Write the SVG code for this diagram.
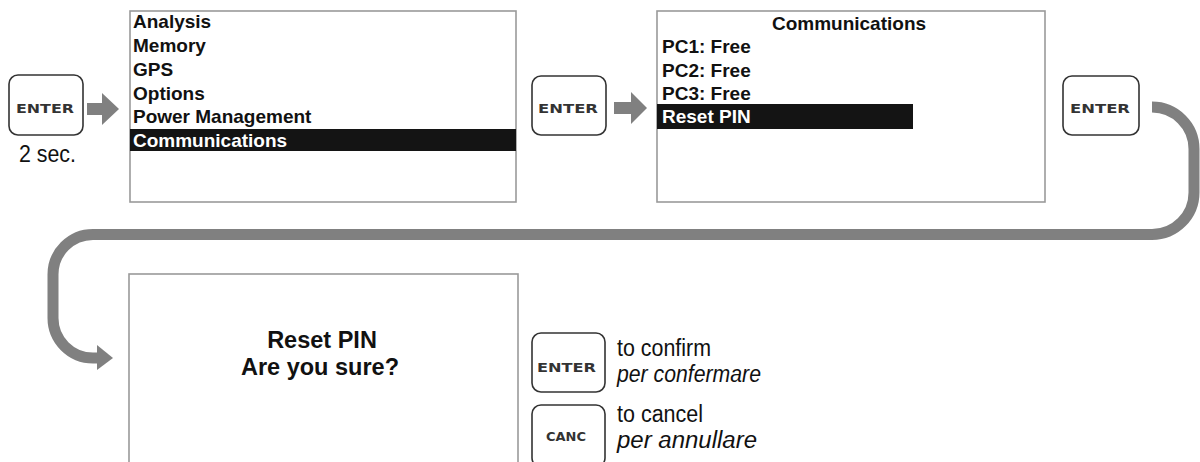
<svg xmlns="http://www.w3.org/2000/svg" width="1200" height="462" viewBox="0 0 1200 462">
<style>
.scr{fill:#fff;stroke:#9a9a9a;stroke-width:1.6}
.bar{fill:#141414}
.mi{font-family:"Liberation Sans",Arial,sans-serif;font-weight:bold;font-size:19px;fill:#111}
.mw{font-family:"Liberation Sans",Arial,sans-serif;font-weight:bold;font-size:19px;fill:#fff}
.big{font-family:"Liberation Sans",Arial,sans-serif;font-weight:bold;font-size:23.5px;fill:#111}
.btn{fill:#fff;stroke:#333;stroke-width:1.6}
.bt{font-family:"DejaVu Sans",Verdana,sans-serif;font-weight:bold;font-size:12px;fill:#333}
.lbl{font-family:"Liberation Sans",Arial,sans-serif;font-size:23px;fill:#111}
.it{font-style:italic}
.arr{fill:#808080}
.conn{fill:none;stroke:#808080;stroke-width:11}
</style>

<g id="btn-enter-1">
<rect class="btn" x="9" y="75" width="74" height="60" rx="9"/>
<text class="bt" x="16" y="113" textLength="58" lengthAdjust="spacingAndGlyphs">ENTER</text>
<text class="lbl" x="19" y="162" textLength="57" lengthAdjust="spacingAndGlyphs">2 sec.</text>
</g>

<g id="screen-menu">
<rect class="scr" x="130" y="11" width="386" height="191"/>
<rect class="bar" x="130" y="129" width="386" height="22"/>
<text class="mi" x="133" y="28">Analysis</text>
<text class="mi" x="133" y="52">Memory</text>
<text class="mi" x="133" y="76">GPS</text>
<text class="mi" x="133" y="100">Options</text>
<text class="mi" x="133" y="123">Power Management</text>
<text class="mw" x="133" y="147">Communications</text>
</g>

<g id="btn-enter-2">
<rect class="btn" x="532" y="76" width="74" height="59" rx="9"/>
<text class="bt" x="538" y="113" textLength="60" lengthAdjust="spacingAndGlyphs">ENTER</text>
</g>

<g id="screen-comm">
<rect class="scr" x="657" y="11" width="388" height="191"/>
<rect class="bar" x="657" y="104" width="256" height="25"/>
<text class="mi" x="849" y="30" text-anchor="middle">Communications</text>
<text class="mi" x="662" y="53">PC1: Free</text>
<text class="mi" x="662" y="77">PC2: Free</text>
<text class="mi" x="662" y="100">PC3: Free</text>
<text class="mw" x="662" y="123">Reset PIN</text>
</g>

<g id="btn-enter-3">
<rect class="btn" x="1063" y="76" width="76" height="59" rx="9"/>
<text class="bt" x="1070" y="113" textLength="60" lengthAdjust="spacingAndGlyphs">ENTER</text>
</g>

<g id="screen-confirm">
<rect class="scr" x="129" y="274" width="389" height="200"/>
<text class="big" x="322" y="348" text-anchor="middle">Reset PIN</text>
<text class="big" x="320" y="375" text-anchor="middle">Are you sure?</text>
</g>

<g id="btn-enter-confirm">
<rect class="btn" x="532" y="333" width="73" height="59" rx="9"/>
<text class="bt" x="537" y="372" textLength="59" lengthAdjust="spacingAndGlyphs">ENTER</text>
<text class="lbl" x="617" y="356" textLength="94" lengthAdjust="spacingAndGlyphs">to confirm</text>
<text class="lbl it" x="617" y="382" textLength="144" lengthAdjust="spacingAndGlyphs">per confermare</text>
</g>

<g id="btn-canc">
<rect class="btn" x="532" y="405" width="73" height="62" rx="9"/>
<text class="bt" x="546" y="441" textLength="40" lengthAdjust="spacingAndGlyphs">CANC</text>
<text class="lbl" x="617" y="422" textLength="86" lengthAdjust="spacingAndGlyphs">to cancel</text>
<text class="lbl it" x="617" y="448" textLength="140" lengthAdjust="spacingAndGlyphs">per annullare</text>
</g>

<g id="connectors">
<polygon class="arr" points="87,103 102,103 102,93 119,109 102,125 102,115 87,115"/>
<polygon class="arr" points="614,102 631,102 631,92 647,108 631,124 631,114 614,114"/>
<path class="conn" d="M1152,107 A42,42 0 0 1 1194,149 V192.5 A42,42 0 0 1 1152,234.5 H93 A40,40 0 0 0 53,274.5 V318 A40,40 0 0 0 93,358 H98"/>
<polygon class="arr" points="97,345 113,358 97,370"/>
</g>
</svg>
